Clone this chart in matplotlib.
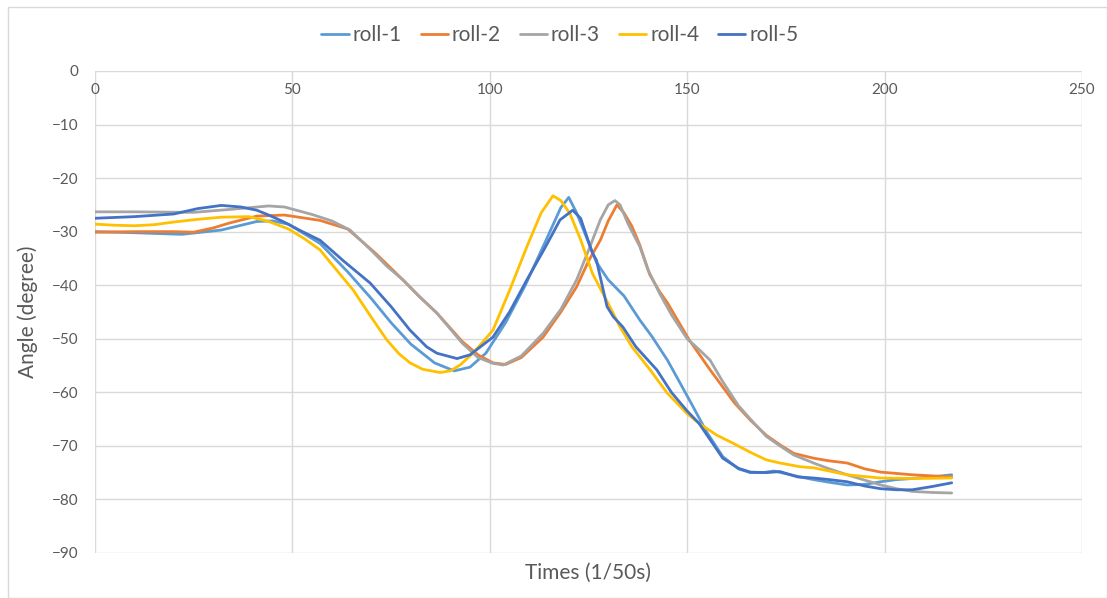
"""Roll angle over time for five trials."""

from matplotlib import pyplot as plt
from matplotlib.patches import Rectangle

# time axis (1/50 s) and roll angle readings (degree) for each trial
x_roll1 = [0, 10, 22, 32, 41, 45, 49, 57, 64, 70, 75, 80, 86, 91, 95, 99, 104, 109,
           114, 118, 120, 122, 125, 127, 130, 134, 138, 141, 145, 148, 151.5, 155,
           159, 163, 166, 169, 172, 175, 178.6, 182, 186, 190.5, 195, 199, 203, 207,
           212, 217]
y_roll1 = [-30.0, -30.2, -30.5, -29.7, -28.1, -28.0, -28.6, -32.2, -37.5, -42.5, -47,
           -51, -54.5, -56, -55.3, -52.7, -47, -40, -32, -25.5, -23.6, -26.5, -32,
           -35.7, -39, -42, -46.5, -49.5, -54, -58, -62.7, -67.5, -72, -74.3, -75, -75,
           -74.7, -75.2, -75.8, -76.3, -76.8, -77.3, -77.2, -76.7, -76.3, -76.1, -75.8,
           -75.4]

x_roll2 = [0, 10, 20, 25, 30, 34, 41, 48, 57, 64, 71, 78, 82, 86.6, 93, 97, 100.8, 104,
           108, 113.5, 118, 122, 125, 128, 130, 132.2, 134, 136, 138, 140.5, 143, 145,
           150.5, 155.8, 157.5, 162, 166, 170, 173.5, 177, 182, 186, 190.5, 195, 199,
           207, 217]
y_roll2 = [-30.1, -30.0, -30.0, -30.1, -29.3, -28.4, -27.1, -26.9, -27.9, -29.5, -34,
           -39, -42, -45.2, -50.5, -53, -54.5, -54.8, -53.5, -49.7, -45, -40.3, -35.5,
           -31.6, -28, -25, -26.5, -29, -32.5, -38, -41.2, -43.3, -50.2, -55.8, -57.5,
           -62, -65.2, -68, -69.8, -71.4, -72.3, -72.8, -73.2, -74.3, -74.9, -75.4,
           -75.8]

x_roll3 = [0, 10, 25, 35, 44, 48, 55, 60, 64.6, 70, 74, 78, 82, 86.6, 93, 97, 100.8,
           103.4, 108, 113.5, 118, 122, 125, 128, 130, 131.7, 133, 135, 138, 140, 143,
           146, 150, 153, 155.8, 159, 163, 166, 170, 173.5, 177, 182, 186, 190.5, 195,
           199, 203, 207, 212, 217]
y_roll3 = [-26.3, -26.3, -26.4, -25.8, -25.2, -25.4, -26.8, -28, -29.7, -33.5, -36.5,
           -39, -42, -45.2, -50.8, -53.5, -54.6, -54.9, -53.2, -49, -44.5, -39, -33.5,
           -27.8, -25, -24.2, -25, -28.5, -32.8, -37, -41.5, -45.5, -50, -52, -54, -58,
           -62.5, -65, -68.2, -70, -71.7, -73.2, -74.3, -75.4, -76.4, -77.3, -78, -78.5,
           -78.7, -78.8]

x_roll4 = [0, 5, 10, 15, 20, 26, 32, 39, 44, 49, 53, 57, 61, 65.4, 70, 73.9, 77, 79.8,
           83, 87.4, 90, 92.5, 96, 100.8, 105, 109.4, 113, 116, 118, 120.3, 123, 126,
           130.4, 133, 136, 140.6, 144.9, 150, 153, 157.5, 161.6, 166, 170, 173.5,
           178.6, 182, 186, 190.5, 198.8, 207, 217]
y_roll4 = [-28.6, -28.8, -28.9, -28.7, -28.2, -27.7, -27.3, -27.2, -28.1, -29.5, -31.3,
           -33.4, -37, -40.9, -46, -50.2, -52.8, -54.5, -55.7, -56.3, -56, -54.9, -52.5,
           -48.4, -41, -32.8, -26.5, -23.3, -24.2, -26.6, -31.5, -37.8, -44, -47.8,
           -51.5, -55.8, -60.1, -64, -65.8, -68, -69.5, -71.2, -72.6, -73.2, -73.9,
           -74.1, -74.7, -75.4, -76, -76.1, -76]

x_roll5 = [0, 10, 20, 26, 32, 37, 41, 44, 47.6, 52, 57, 63, 69.7, 75, 79.8, 84, 86.6,
           91.7, 95, 100.8, 105, 109.4, 114, 117.8, 121, 123, 126, 127, 129.7, 131.3,
           133.7, 137, 142.3, 146, 150, 153, 159, 163, 166, 170, 173.5, 178, 182, 186,
           190.5, 195, 199, 203, 207, 212, 217]
y_roll5 = [-27.5, -27.2, -26.7, -25.7, -25.1, -25.4, -26, -26.9, -28.1, -29.8, -31.6,
           -35.5, -39.6, -44, -48.4, -51.5, -52.7, -53.7, -53, -49.7, -45, -39, -33,
           -27.8, -26, -27.5, -34, -35.3, -44, -45.9, -47.8, -51.5, -55.8, -60, -63.5,
           -65.8, -72.3, -74.2, -74.9, -75, -74.8, -75.8, -76, -76.3, -76.7, -77.5, -78,
           -78.2, -78.2, -77.6, -76.9]

series = [
    ("roll-1", x_roll1, y_roll1, "#5B9BD5"),
    ("roll-2", x_roll2, y_roll2, "#ED7D31"),
    ("roll-3", x_roll3, y_roll3, "#A5A5A5"),
    ("roll-4", x_roll4, y_roll4, "#FFC000"),
    ("roll-5", x_roll5, y_roll5, "#4472C4"),
]

x_ticks = [0, 50, 100, 150, 200, 250]
y_ticks = [0, -10, -20, -30, -40, -50, -60, -70, -80, -90]

plt.rcParams["font.family"] = ["Lato", "DejaVu Sans"]
text_color = "#595959"
grid_color = "#D9D9D9"

fig = plt.figure(figsize=(11.07, 5.98), dpi=100)
fig.patches.append(Rectangle((0.007, 0.0), 0.993, 0.988, transform=fig.transFigure,
                             fill=False, edgecolor="#D9D9D9", linewidth=1))
ax = fig.add_axes([0.0858, 0.0753, 0.8916, 0.806])

for name, xs, ys, color in series:
    ax.plot(xs, ys, color=color, linewidth=2, label=name,
            solid_capstyle="round", solid_joinstyle="round")

ax.set_xlim(0, 250)
ax.set_ylim(-90, 0)
ax.set_xticks(x_ticks)
ax.set_yticks(y_ticks)
ax.grid(True, color=grid_color, linewidth=1)
ax.set_axisbelow(True)
for spine in ax.spines.values():
    spine.set_visible(False)

ax.tick_params(axis="x", top=False, bottom=False, labelbottom=False, labeltop=True,
               pad=-19, labelsize=11, labelcolor=text_color, length=0)
ax.tick_params(axis="y", left=False, labelsize=11, labelcolor=text_color, length=0, pad=12)

ax.set_ylabel("Angle (degree)", fontsize=15, color=text_color, labelpad=10)
fig.text(0.5316, 0.042, "Times (1/50s)", fontsize=15, color=text_color,
         ha="center", va="center")

ax.legend(loc="center", bbox_to_anchor=(0.471, 1.075), ncol=5, frameon=False,
          fontsize=15, handlelength=1.3, handletextpad=0.2, columnspacing=0.9,
          labelcolor=text_color)

fig.savefig("out.png", dpi=100)
